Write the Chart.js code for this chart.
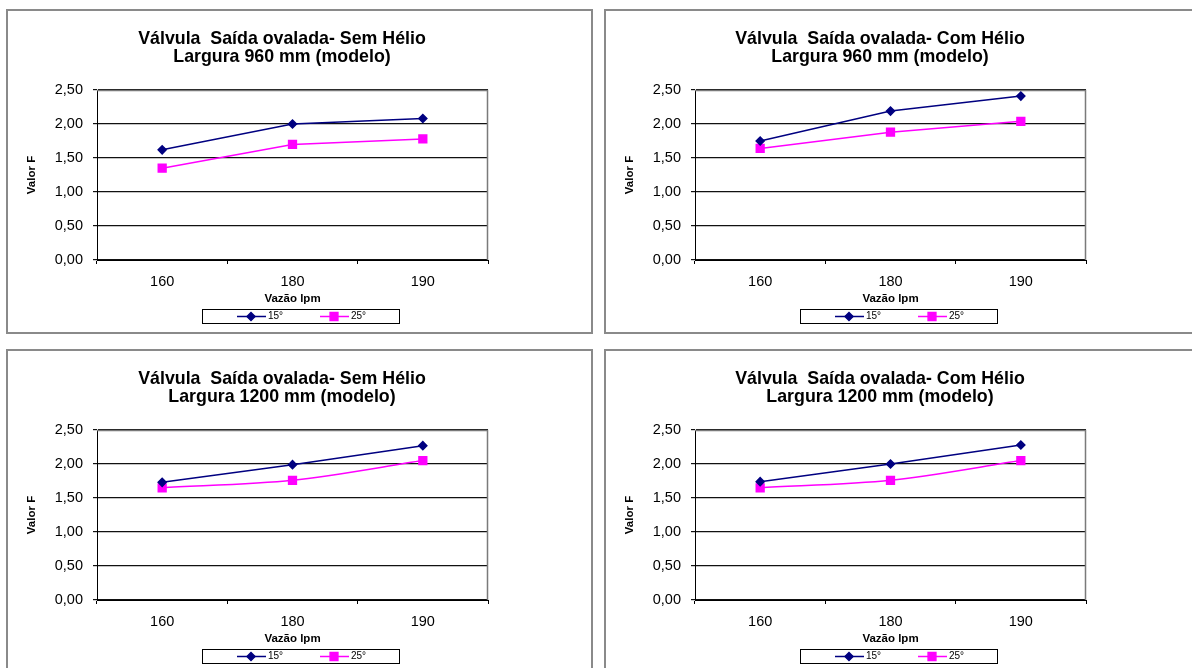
<!DOCTYPE html>
<html>
<head>
<meta charset="utf-8">
<script src="https://cdn.jsdelivr.net/npm/chart.js@4.4.1/dist/chart.umd.min.js"></script>
<style>
  html, body { margin:0; padding:0; background:#fff; width:1192px; height:668px; overflow:hidden; font-family:"Liberation Sans", Arial, sans-serif; }
  .panel { position:absolute; box-sizing:border-box; border:2px solid #8a8a8a; background:#fff; overflow:hidden; }
  .panel canvas { position:absolute; left:0; top:0; }
  .ttl { position:absolute; left:74px; top:18px; width:400px; text-align:center; font-weight:bold; font-size:17.8px; line-height:18px; color:#000; white-space:pre; z-index:2; }
</style>
</head>
<body>

<div class="panel" style="left:6px; top:9px; width:587px; height:325px;">
  <div class="ttl">Válvula  Saída ovalada- Sem Hélio
Largura 960 mm (modelo)</div>
  <canvas id="c1" width="583" height="321"></canvas>
</div>
<div class="panel" style="left:604px; top:9px; width:600px; height:325px;">
  <div class="ttl">Válvula  Saída ovalada- Com Hélio
Largura 960 mm (modelo)</div>
  <canvas id="c2" width="583" height="321"></canvas>
</div>
<div class="panel" style="left:6px; top:349px; width:587px; height:340px;">
  <div class="ttl">Válvula  Saída ovalada- Sem Hélio
Largura 1200 mm (modelo)</div>
  <canvas id="c3" width="583" height="321"></canvas>
</div>
<div class="panel" style="left:604px; top:349px; width:600px; height:340px;">
  <div class="ttl">Válvula  Saída ovalada- Com Hélio
Largura 1200 mm (modelo)</div>
  <canvas id="c4" width="583" height="321"></canvas>
</div>

<script>
// ---- data ----
const categories = ['160', '180', '190'];
const seriesNames = ['15°', '25°'];
const yTickLabels = ['0,00', '0,50', '1,00', '1,50', '2,00', '2,50'];

const semHelio960_15 = [1.62, 2.00, 2.08];
const semHelio960_25 = [1.35, 1.70, 1.78];
const comHelio960_15 = [1.75, 2.19, 2.41];
const comHelio960_25 = [1.64, 1.88, 2.04];
const semHelio1200_15 = [1.73, 1.99, 2.27];
const semHelio1200_25 = [1.65, 1.76, 2.05];
const comHelio1200_15 = [1.74, 2.00, 2.28];
const comHelio1200_25 = [1.65, 1.76, 2.05];

const FONT = '"Liberation Sans", Arial, sans-serif';

// gray top/right edge of the plot area, like the Excel original
const plotFrame = {
  id: 'plotFrame',
  beforeDatasetsDraw(chart) {
    const { ctx, chartArea: a } = chart;
    ctx.save();
    ctx.strokeStyle = '#7a7a7a';
    ctx.lineWidth = 1.5;
    ctx.beginPath();
    ctx.moveTo(a.left, a.top + 0.5);
    ctx.lineTo(a.right - 0.5, a.top + 0.5);
    ctx.lineTo(a.right - 0.5, a.bottom);
    ctx.stroke();
    ctx.restore();
  }
};

// boxed legend under the x axis title
const boxLegend = {
  id: 'boxLegend',
  afterDraw(chart) {
    const { ctx, chartArea: a } = chart;
    const x0 = a.left + 105, y0 = a.bottom + 49, w = 197, h = 14;
    const itemX = [35, 118];
    ctx.save();
    ctx.strokeStyle = '#000';
    ctx.lineWidth = 1;
    ctx.strokeRect(x0 + 0.5, y0 + 0.5, w, h);
    chart.data.datasets.forEach((ds, i) => {
      const lx = x0 + itemX[i], cy = y0 + h / 2 + 0.5;
      ctx.strokeStyle = ds.borderColor;
      ctx.lineWidth = 1.5;
      ctx.beginPath();
      ctx.moveTo(lx, cy);
      ctx.lineTo(lx + 29, cy);
      ctx.stroke();
      ctx.fillStyle = ds.pointBackgroundColor;
      ctx.strokeStyle = ds.pointBorderColor;
      Chart.helpers.drawPoint(ctx, { pointStyle: ds.pointStyle, radius: ds.pointRadius, borderWidth: 1, rotation: 0 }, lx + 14, cy);
      ctx.fillStyle = '#000';
      ctx.font = '10px ' + FONT;
      ctx.textBaseline = 'middle';
      ctx.textAlign = 'left';
      ctx.fillText(ds.label, lx + 31, cy);
    });
    ctx.restore();
  }
};

function makeChart(id, s15, s25, smooth25) {
  new Chart(document.getElementById(id), {
    type: 'line',
    data: {
      labels: categories,
      datasets: [
        {
          label: seriesNames[0],
          data: s15,
          borderColor: '#000080',
          borderWidth: 1.5,
          pointStyle: 'rectRot',
          pointRadius: 4,
          pointBackgroundColor: '#000080',
          pointBorderColor: '#000080',
          tension: 0
        },
        {
          label: seriesNames[1],
          data: s25,
          borderColor: '#ff00ff',
          borderWidth: 1.5,
          pointStyle: 'rect',
          pointRadius: 5.5,
          pointBackgroundColor: '#ff00ff',
          pointBorderColor: '#ff00ff',
          tension: smooth25 ? 0.3 : 0
        }
      ]
    },
    options: {
      responsive: false,
      animation: false,
      layout: { padding: { left: 0, top: 79, right: 103, bottom: 0 } },
      plugins: { legend: { display: false }, title: { display: false }, tooltip: { enabled: false } },
      scales: {
        x: {
          offset: true,
          afterFit: s => { s.height = 72; },
          grid: { offset: true, drawOnChartArea: false, drawTicks: true, tickLength: 4, color: '#000' },
          border: { color: '#000', width: 1 },
          ticks: { color: '#000', padding: 9, font: { family: FONT, size: 14.5 } },
          title: { display: true, text: 'Vazão lpm', color: '#000', padding: { top: 0, bottom: 26 }, font: { family: FONT, size: 11.5, weight: 'bold' } }
        },
        y: {
          min: 0,
          max: 2.5,
          afterFit: s => { s.width = 89; },
          grid: { color: '#111', lineWidth: 1.2, drawTicks: true, tickLength: 4 },
          border: { color: '#000', width: 1 },
          ticks: { stepSize: 0.5, color: '#000', padding: 10, font: { family: FONT, size: 14.5 }, callback: (v, i) => yTickLabels[i] },
          title: { display: true, text: 'Valor F', color: '#000', padding: { top: 17, bottom: 0 }, font: { family: FONT, size: 11.5, weight: 'bold' } }
        }
      }
    },
    plugins: [plotFrame, boxLegend]
  });
}

makeChart('c1', semHelio960_15, semHelio960_25, false);
makeChart('c2', comHelio960_15, comHelio960_25, false);
makeChart('c3', semHelio1200_15, semHelio1200_25, true);
makeChart('c4', comHelio1200_15, comHelio1200_25, true);
</script>
</body>
</html>
